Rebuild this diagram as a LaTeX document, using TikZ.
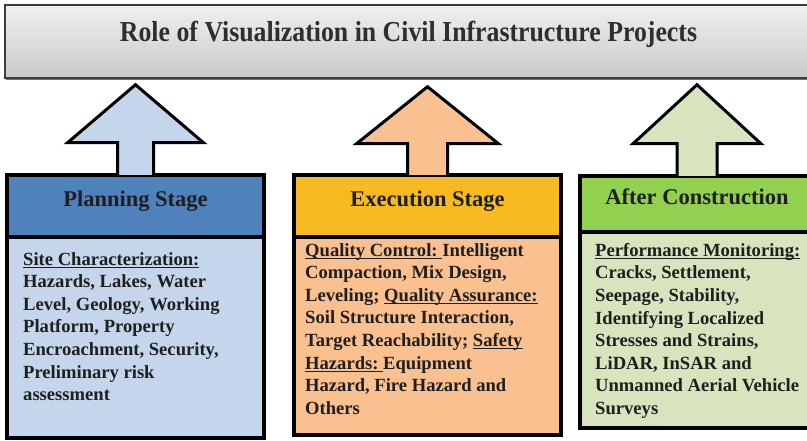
\documentclass[tikz,border=0pt]{standalone}
\usepackage{fontspec}
\setmainfont{Liberation Serif}
\usetikzlibrary{positioning, calc, shadows}
\definecolor{PlanDark}{RGB}{79,129,189}
\definecolor{PlanLight}{RGB}{197,214,236}
\definecolor{ExecDark}{RGB}{247,187,33}
\definecolor{ExecLight}{RGB}{250,192,144}
\definecolor{AfterDark}{RGB}{146,208,80}
\definecolor{AfterLight}{RGB}{215,228,189}
\definecolor{BannerEdge}{RGB}{60,60,60}

% underline at a fixed depth below the baseline
\newlength\keywd
\newcommand\keyword[1]{\settowidth\keywd{#1}\rlap{\rule[-2.6pt]{\keywd}{1.1pt}}#1}

\begin{document}
\begin{tikzpicture}[
          x=1pt, y=1pt,
          banner/.style={rectangle, draw=BannerEdge, line width=1.5pt, top color=gray!12, bottom color=gray!42, minimum width=807pt, minimum height=73pt, text height=15pt, text depth=15pt, font=\fontsize{25.8}{30}\selectfont\bfseries, text=black!82, drop shadow={shadow xshift=0.5pt, shadow yshift=-2.5pt, opacity=0.55, fill=black}},
          stagehead/.style={rectangle, draw=black, line width=3.5pt, outer sep=0pt, text height=12pt, text depth=10pt, font=\fontsize{22.5}{26}\selectfont\bfseries, text=black!88},
          stagebody/.style={rectangle, draw=black, line width=3.5pt, outer sep=0pt},
          stagetext/.style={anchor=north west, inner sep=0pt, align=left, font=\fontsize{18.6}{22.6}\selectfont\bfseries, text=black!88},
          uparrow/.style={draw=black, line width=3pt}
        ]
          \useasboundingbox (0,0) rectangle (807,441);
          \clip (0,0) rectangle (807,441);

          \node (title) [banner] at (408.5,399.5) {\scalebox{1}[1.12]{Role of Visualization in Civil Infrastructure Projects}};

          % the three stages
          \node (plan) [stagehead, fill=PlanDark, minimum width=257pt, minimum height=62pt] at (135.5,235) {Planning Stage};
          \node (planbody) [stagebody, fill=PlanLight, minimum width=257pt, minimum height=201pt, below=0pt of plan] {};

          \node (exec) [stagehead, fill=ExecDark, minimum width=267pt, minimum height=62pt] at (427.5,235) {Execution Stage};
          \node (execbody) [stagebody, fill=ExecLight, minimum width=267pt, minimum height=198pt, below=0pt of exec] {};

          \node (after) [stagehead, fill=AfterDark, minimum width=234pt, minimum height=56pt] at (697,237) {After Construction};
          \node (afterbody) [stagebody, fill=AfterLight, minimum width=234pt, minimum height=196pt, below=0pt of after] {};

          % stage descriptions
          \node (plantext) [stagetext] at ([xshift=16pt, yshift=-15pt]planbody.north west)
            {\keyword{Site Characterization:}\\
             Hazards, Lakes, Water\\
             Level, Geology, Working\\
             Platform, Property\\
             Encroachment, Security,\\
             Preliminary risk\\
             assessment};
          \node (exectext) [stagetext] at ([xshift=11pt, yshift=-6pt]execbody.north west)
            {\keyword{Quality Control:\ }Intelligent\\
             Compaction, Mix Design,\\
             Leveling; \keyword{Quality Assurance:}\\
             Soil Structure Interaction,\\
             Target Reachability; \keyword{Safety}\\
             \keyword{Hazards:\ }Equipment\\
             Hazard, Fire Hazard and\\
             Others};
          \node (aftertext) [stagetext] at ([xshift=15pt, yshift=-11pt]afterbody.north west)
            {\keyword{Performance Monitoring:}\\
             Cracks, Settlement,\\
             Seepage, Stability,\\
             Identifying Localized\\
             Stresses and Strains,\\
             LiDAR, InSAR and\\
             Unmanned Aerial Vehicle\\
             Surveys};

          % block arrows up to the title
          \coordinate (plantip) at ($(plan.north |- title.south)+(0,-6pt)$);
          \coordinate (exectip) at ($(exec.north |- title.south)+(0,-8pt)$);
          \coordinate (aftertip) at ($(after.north |- title.south)+(0,-6pt)$);

          \draw [uparrow, fill=PlanLight] ([xshift=-18pt]plan.north) |- ($(plantip)+(-68pt,-58pt)$) -- (plantip) -- ($(plantip)+(68pt,-58pt)$) -| ([xshift=18pt]plan.north);
          \draw [uparrow, fill=ExecLight] ([xshift=-20pt]exec.north) |- ($(exectip)+(-71pt,-57pt)$) -- (exectip) -- ($(exectip)+(71pt,-57pt)$) -| ([xshift=20pt]exec.north);
          \draw [uparrow, fill=AfterLight] ([xshift=-20pt]after.north) |- ($(aftertip)+(-64pt,-59pt)$) -- (aftertip) -- ($(aftertip)+(64pt,-59pt)$) -| ([xshift=20pt]after.north);
        \end{tikzpicture}
\end{document}
